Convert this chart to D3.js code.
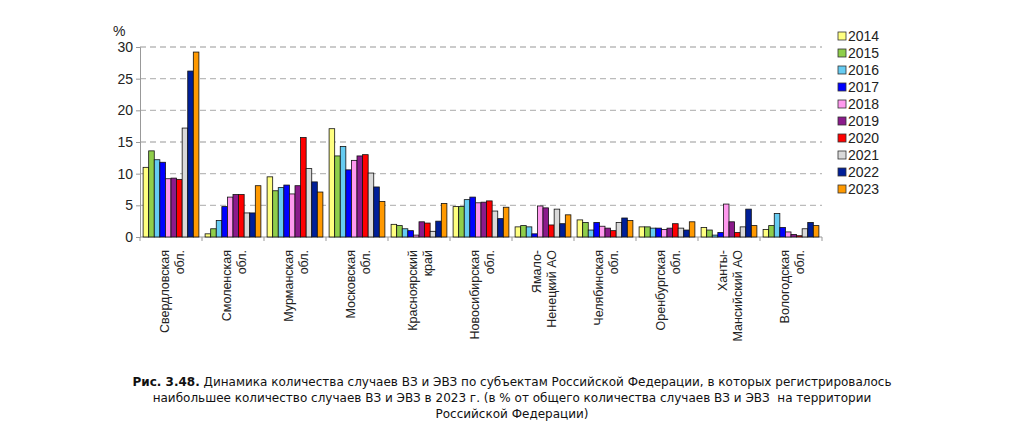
<!DOCTYPE html>
<html><head><meta charset="utf-8">
<script src="https://cdn.jsdelivr.net/npm/d3@7"></script>
<style>body{margin:0;background:#fff}svg{font-family:"Liberation Sans",Arial,sans-serif}</style>
</head><body><svg id="c" width="1024" height="444"></svg>
<script>
const regions = [["Свердловская","обл."],["Смоленская","обл."],["Мурманская","обл."],["Московская","обл."],["Красноярский","край"],["Новосибирская","обл."],["Ямало-","Ненецкий АО"],["Челябинская","обл."],["Оренбургская","обл."],["Ханты-","Мансийский АО"],["Вологодская","обл."]]
const years = ['2014','2015','2016','2017','2018','2019','2020','2021','2022','2023']
const colors = ['#ffff80','#8fce4a','#66ccf2','#0000ff','#ff99ee','#8b1a8b','#ff0000','#d9d9d9','#001f99','#ff9900']
// values per region, one per year
const values = [
  [11.0,13.6,12.2,11.8,9.2,9.3,9.1,17.2,26.2,29.2],
  [0.5,1.3,2.6,4.8,6.3,6.7,6.7,3.8,3.8,8.1],
  [9.5,7.3,7.8,8.2,6.8,8.1,15.7,10.8,8.7,7.1],
  [17.1,12.8,14.3,10.6,12.1,12.8,13.0,10.1,7.9,5.6],
  [2.0,1.8,1.3,1.0,0.3,2.4,2.2,0.9,2.5,5.3],
  [4.8,4.8,5.9,6.3,5.4,5.5,5.7,4.1,2.9,4.7],
  [1.6,1.8,1.6,0.5,4.9,4.6,1.9,4.4,2.1,3.5],
  [2.7,2.3,1.1,2.3,1.7,1.4,1.0,2.3,3.0,2.6],
  [1.6,1.6,1.4,1.4,1.2,1.4,2.1,1.4,1.1,2.4],
  [1.5,1.1,0.3,0.7,5.2,2.4,0.7,1.6,4.4,1.8],
  [1.2,1.8,3.7,1.5,0.8,0.4,0.2,1.3,2.3,1.8]
]
const yTicks = [0,5,10,15,20,25,30]
const caption = [
  [["Рис. 3.48.",true],[" Динамика количества случаев ВЗ и ЭВЗ по субъектам Российской Федерации, в которых регистрировалось",false]],
  [["наибольшее количество случаев ВЗ и ЭВЗ в 2023 г. (в % от общего количества случаев ВЗ и ЭВЗ  на территории",false]],
  [["Российской Федерации)",false]]
]

const svg = d3.select('#c')
const x0 = d3.scaleBand().domain(d3.range(regions.length)).range([140,822]).paddingInner(0.1).paddingOuter(0.05)
const x1 = d3.scaleBand().domain(years).range([0,x0.bandwidth()])
const y = d3.scaleLinear().domain([0,30]).range([237,47])

// gridlines
svg.append('g').selectAll('line').data(yTicks.slice(1)).join('line')
  .attr('x1',140).attr('x2',822).attr('y1',d=>y(d)).attr('y2',d=>y(d))
  .attr('stroke','#bbb').attr('stroke-width',1.3).attr('stroke-dasharray','6 4')

const ya = svg.append('g').attr('transform','translate(140,0)').call(d3.axisLeft(y).tickValues(yTicks).tickSize(4))
ya.select('.domain').attr('stroke','#999')
ya.selectAll('.tick line').attr('stroke','#999')
ya.selectAll('text').attr('font-size',14).attr('fill','#222').attr('font-family','Liberation Sans')
svg.append('text').attr('x',113).attr('y',36).attr('font-size',14).attr('fill','#222').text('%')

const xa = svg.append('g').attr('transform','translate(0,237)')
xa.append('line').attr('x1',140).attr('x2',822).attr('stroke','#999')
const step = 682/regions.length
xa.selectAll('.t').data(d3.range(regions.length+1)).join('line')
  .attr('x1',d=>140+d*step).attr('x2',d=>140+d*step).attr('y1',0).attr('y2',4).attr('stroke','#999')

const g = svg.append('g').selectAll('g').data(values).join('g')
  .attr('transform',(d,i)=>`translate(${x0(i)},0)`)
g.selectAll('rect').data(d=>d.map((v,j)=>({v,j}))).join('rect')
  .attr('x',d=>x1(years[d.j])).attr('width',x1.bandwidth())
  .attr('y',d=>y(d.v)).attr('height',d=>y(0)-y(d.v))
  .attr('fill',d=>colors[d.j]).attr('stroke','#111').attr('stroke-width',0.8)

// category labels rotated
const lab = svg.append('g').selectAll('text').data(regions).join('text')
  .attr('transform',(d,i)=>`translate(${140+(i+0.5)*step},250) rotate(-90)`)
  .attr('text-anchor','end').attr('font-size',12.5).attr('fill','#222')
lab.each(function(d){
  const t = d3.select(this)
  t.append('tspan').attr('x',0).attr('dy','-0.15em').text(d[0])
  t.append('tspan').attr('x',0).attr('dy','1.15em').text(d[1])
})

// legend
const lg = svg.append('g').selectAll('g').data(years).join('g')
  .attr('transform',(d,i)=>`translate(838,${36+i*17})`)
lg.append('rect').attr('x',0).attr('y',-4).attr('width',8).attr('height',8)
  .attr('fill',(d,i)=>colors[i]).attr('stroke','#333').attr('stroke-width',0.8)
lg.append('text').attr('x',10).attr('y',5).attr('font-size',14).attr('fill','#222').text(d=>d)

// caption
const cap = svg.append('g').selectAll('text').data(caption).join('text')
  .attr('x',512).attr('y',(d,i)=>386+i*16).attr('text-anchor','middle')
  .attr('font-family','"DejaVu Sans",sans-serif').attr('font-size',12).attr('fill','#111')
  .attr('xml:space','preserve').style('white-space','pre')
cap.each(function(d){
  const t = d3.select(this)
  d.forEach(p=>t.append('tspan').attr('font-weight',p[1]?'bold':'normal').text(p[0]))
})
</script></body></html>
